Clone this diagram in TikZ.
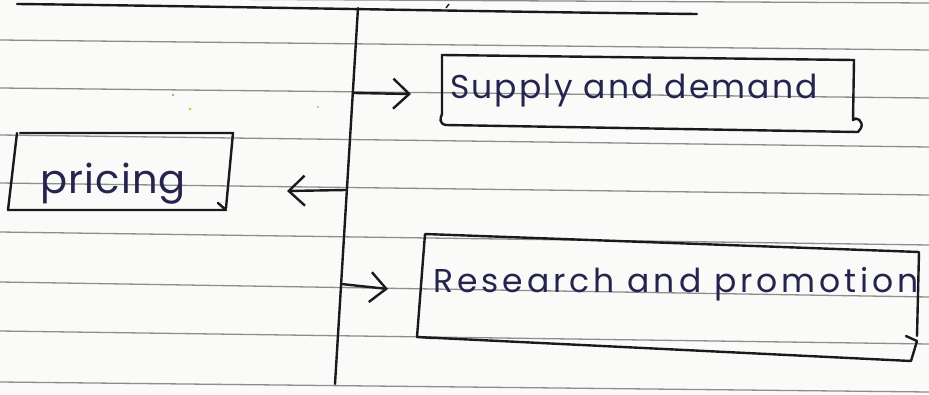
\documentclass[tikz,border=0pt]{standalone}
\usepackage{fontspec}
\setmainfont{Poppins}
\usetikzlibrary{arrows.meta,calc}
\definecolor{paper}{HTML}{FAFAF8}
\definecolor{rulegray}{HTML}{8E8E8E}
\definecolor{pen}{HTML}{1A1A1E}
\definecolor{ink}{HTML}{24244E}
\begin{document}
\begin{tikzpicture}[x=1pt,y=-1pt,
  ruling/.style={rulegray, line width=1.3pt},
  penline/.style={pen, line width=2.4pt, line cap=round, line join=round},
  handtext/.style={ink, inner sep=0pt, anchor=base west},
  barb/.style={penline, -{Straight Barb[length=16pt,width=30pt]}}]

% sheet of ruled paper
\fill[paper] (0,0) rectangle (929,394);
\useasboundingbox (0,0) rectangle (929,394);
\draw[ruling] (0,-2) -- (929,3);
\draw[ruling] (0,40) -- (929,50);
\draw[ruling] (0,88) -- (929,98);
\draw[ruling] (0,135) -- (929,147);
\draw[ruling] (0,183) -- (929,195);
\draw[ruling] (0,232) -- (929,245);
\draw[ruling] (0,282) -- (929,297);
\draw[ruling] (0,331) -- (929,344);
\draw[ruling] (0,382) -- (929,392);

% small specks on the page
\fill[gray!70] (173,95) circle (1.4);
\fill[yellow!60!gray] (190,109) circle (1.6);
\fill[gray!60] (318,107) circle (1.2);
\draw[pen, line width=1.4pt] (446,8) -- (449,4);

% pen lines: top rule and the divider
\draw[penline] (17,4) .. controls (200,6) and (500,12) .. (697,14);
\coordinate (vt) at (358,8);
\coordinate (vb) at (335,384);
\draw[penline] (vt) -- (vb);

% texts
\node[handtext, font={\fontsize{40}{40}\selectfont\addfontfeature{LetterSpace=3}}]
  (pricing) at (40,193) {pricing};
\node[handtext, font={\fontsize{33}{33}\selectfont\addfontfeature{LetterSpace=6.5}}]
  (supply) at (450,98) {Supply and demand};
\node[handtext, font={\fontsize{33}{33}\selectfont\addfontfeature{LetterSpace=12}}]
  (research) at (433,292) {Research and promotion};

% box outlines
\draw[penline] (20,133) -- (233,133) -- (226,208)
  (218,203) -- (226,210) -- (8,210) -- (17,133);
\draw[penline] (442,55) -- (854,60) -- (853,120)
  .. controls (856,116) and (864,121) .. (861,128) -- (858,132)
  -- (446,125) .. controls (439,124) and (440,118) .. (442,114) -- cycle;
\draw[penline] (425,234) -- (919,252) -- (917,336)
  (906,336) -- (917,341) -- (911,361) -- (417,337) -- (425,234)
  (417,337) -- (433,338);

% connectors from the divider
\coordinate (e1) at (411,94);
\coordinate (e2) at (287,191);
\coordinate (e3) at (388,289);
\draw[barb] ($(vt)!0.226!(vb)$) -- (e1);
\draw[barb] ($(vt)!0.484!(vb)$) -- (e2);
\draw[barb] ($(vt)!0.734!(vb)$) -- (e3);
\end{tikzpicture}
\end{document}
